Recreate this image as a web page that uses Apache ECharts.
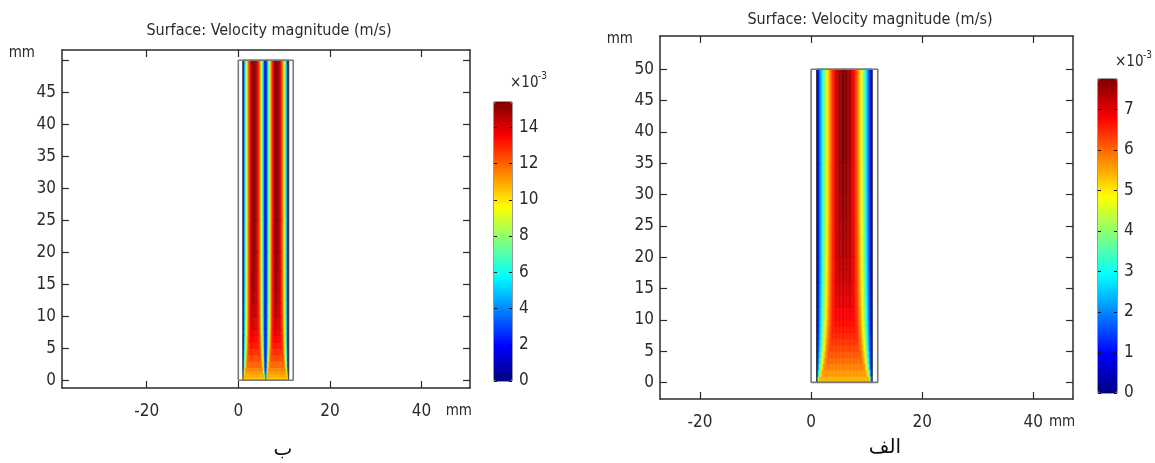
<!DOCTYPE html>
<html>
<head>
<meta charset="utf-8">
<script src="https://cdn.jsdelivr.net/npm/echarts@6/dist/echarts.min.js"></script>
<style>
html, body { margin: 0; padding: 0; background: #fff; }
#chart { width: 1155px; height: 463px; }
</style>
</head>
<body>
<div id="chart"></div>
<script>
// velocity magnitude in 1e-3 m/s.
// each row: half profile from the wall to the channel centre (0.25 mm cells),
// valid between two consecutive band edges (mm along the channel)

// plot "ب" (left): two channels side by side
var leftBands = [0, 0.5, 1, 1.5, 2, 3, 4, 5, 6, 7, 8, 10, 12, 14, 17, 20, 25, 50];
var leftChannels = [[1, 6], [6, 11]];
var leftProfiles = [
    [10.27, 10.47, 10.47, 10.47, 10.47, 10.47, 10.47, 10.47, 10.47, 10.47],
    [5.84, 10.81, 10.83, 10.83, 10.83, 10.83, 10.83, 10.83, 10.83, 10.83],
    [4.11, 9.52, 11.17, 11.17, 11.17, 11.17, 11.17, 11.17, 11.17, 11.17],
    [3.34, 8.31, 10.98, 11.48, 11.48, 11.48, 11.48, 11.48, 11.48, 11.48],
    [2.71, 7.09, 10.07, 11.64, 11.91, 11.91, 11.91, 11.91, 11.91, 11.91],
    [2.29, 6.17, 9.11, 11.12, 12.21, 12.41, 12.41, 12.41, 12.41, 12.41],
    [2.05, 5.61, 8.47, 10.6, 12.03, 12.74, 12.83, 12.83, 12.83, 12.83],
    [1.9, 5.26, 8.03, 10.21, 11.8, 12.79, 13.19, 13.2, 13.2, 13.2],
    [1.81, 5.04, 7.75, 9.94, 11.61, 12.76, 13.39, 13.51, 13.51, 13.51],
    [1.75, 4.88, 7.54, 9.73, 11.45, 12.7, 13.48, 13.78, 13.78, 13.78],
    [1.67, 4.69, 7.3, 9.49, 11.25, 12.59, 13.51, 14.02, 14.12, 14.12],
    [1.62, 4.57, 7.13, 9.31, 11.1, 12.52, 13.55, 14.19, 14.45, 14.46],
    [1.58, 4.48, 7.01, 9.18, 11.0, 12.45, 13.55, 14.28, 14.66, 14.71],
    [1.55, 4.39, 6.91, 9.08, 10.91, 12.39, 13.53, 14.33, 14.8, 14.93],
    [1.53, 4.35, 6.83, 9.01, 10.84, 12.35, 13.53, 14.38, 14.9, 15.1],
    [1.51, 4.31, 6.78, 8.94, 10.78, 12.3, 13.51, 14.4, 14.97, 15.22],
    [1.5, 4.27, 6.74, 8.89, 10.74, 12.28, 13.51, 14.44, 15.05, 15.36]
];

// plot "الف" (right): one wide channel
var rightBands = [0, 1, 2, 3, 4, 5, 6, 7, 8, 9, 10, 12, 14, 16, 18, 20, 23, 26, 30, 35, 50];
var rightChannels = [[1, 11]];
var rightProfiles = [
    [1.81, 4.32, 5.37, 5.41, 5.41, 5.41, 5.41, 5.41, 5.41, 5.41, 5.41, 5.41, 5.41, 5.41, 5.41, 5.41, 5.41, 5.41, 5.41, 5.41],
    [1.12, 2.98, 4.34, 5.22, 5.59, 5.61, 5.61, 5.61, 5.61, 5.61, 5.61, 5.61, 5.61, 5.61, 5.61, 5.61, 5.61, 5.61, 5.61, 5.61],
    [0.85, 2.35, 3.58, 4.54, 5.23, 5.65, 5.8, 5.8, 5.8, 5.8, 5.8, 5.8, 5.8, 5.8, 5.8, 5.8, 5.8, 5.8, 5.8, 5.8],
    [0.72, 2.01, 3.12, 4.05, 4.8, 5.36, 5.74, 5.94, 5.97, 5.97, 5.97, 5.97, 5.97, 5.97, 5.97, 5.97, 5.97, 5.97, 5.97, 5.97],
    [0.63, 1.8, 2.83, 3.72, 4.47, 5.08, 5.55, 5.88, 6.07, 6.12, 6.12, 6.12, 6.12, 6.12, 6.12, 6.12, 6.12, 6.12, 6.12, 6.12],
    [0.59, 1.66, 2.63, 3.48, 4.22, 4.85, 5.36, 5.75, 6.04, 6.2, 6.26, 6.26, 6.26, 6.26, 6.26, 6.26, 6.26, 6.26, 6.26, 6.26],
    [0.55, 1.56, 2.48, 3.3, 4.03, 4.66, 5.19, 5.62, 5.96, 6.2, 6.35, 6.39, 6.39, 6.39, 6.39, 6.39, 6.39, 6.39, 6.39, 6.39],
    [0.51, 1.48, 2.36, 3.15, 3.87, 4.5, 5.03, 5.49, 5.87, 6.15, 6.36, 6.48, 6.51, 6.51, 6.51, 6.51, 6.51, 6.51, 6.51, 6.51],
    [0.49, 1.42, 2.28, 3.05, 3.75, 4.38, 4.93, 5.4, 5.79, 6.11, 6.35, 6.51, 6.6, 6.62, 6.62, 6.62, 6.62, 6.62, 6.62, 6.62],
    [0.48, 1.37, 2.2, 2.96, 3.65, 4.27, 4.82, 5.3, 5.71, 6.05, 6.32, 6.52, 6.65, 6.71, 6.72, 6.72, 6.72, 6.72, 6.72, 6.72],
    [0.46, 1.33, 2.12, 2.86, 3.54, 4.16, 4.7, 5.19, 5.62, 5.98, 6.28, 6.51, 6.69, 6.8, 6.85, 6.85, 6.85, 6.85, 6.85, 6.85],
    [0.44, 1.27, 2.05, 2.77, 3.43, 4.04, 4.59, 5.08, 5.52, 5.9, 6.23, 6.5, 6.71, 6.86, 6.96, 7.0, 7.0, 7.0, 7.0, 7.0],
    [0.43, 1.24, 2.0, 2.7, 3.36, 3.96, 4.51, 5.01, 5.45, 5.84, 6.18, 6.47, 6.7, 6.89, 7.02, 7.1, 7.12, 7.12, 7.12, 7.12],
    [0.42, 1.21, 1.96, 2.65, 3.3, 3.9, 4.45, 4.95, 5.39, 5.8, 6.15, 6.45, 6.7, 6.91, 7.06, 7.17, 7.22, 7.23, 7.23, 7.23],
    [0.41, 1.19, 1.93, 2.62, 3.26, 3.85, 4.4, 4.9, 5.36, 5.76, 6.12, 6.43, 6.7, 6.91, 7.08, 7.21, 7.28, 7.31, 7.31, 7.31],
    [0.4, 1.18, 1.9, 2.58, 3.22, 3.81, 4.36, 4.86, 5.31, 5.72, 6.09, 6.42, 6.69, 6.92, 7.1, 7.25, 7.34, 7.39, 7.4, 7.4],
    [0.4, 1.16, 1.87, 2.55, 3.18, 3.78, 4.32, 4.82, 5.28, 5.7, 6.07, 6.4, 6.68, 6.93, 7.13, 7.28, 7.39, 7.46, 7.49, 7.49],
    [0.39, 1.15, 1.86, 2.53, 3.16, 3.74, 4.29, 4.79, 5.25, 5.67, 6.05, 6.38, 6.68, 6.93, 7.14, 7.3, 7.43, 7.51, 7.55, 7.56],
    [0.39, 1.14, 1.84, 2.51, 3.14, 3.72, 4.26, 4.77, 5.23, 5.65, 6.03, 6.37, 6.67, 6.93, 7.15, 7.32, 7.46, 7.55, 7.61, 7.62],
    [0.38, 1.12, 1.82, 2.48, 3.1, 3.68, 4.22, 4.72, 5.19, 5.61, 6.0, 6.35, 6.66, 6.93, 7.16, 7.36, 7.51, 7.63, 7.71, 7.75]
];

// geometry outlines (mm)
var outerBox = [[0, 0], [12, 0], [12, 50], [0, 50], [0, 0]];
var innerBox = [[1, 0], [11, 0], [11, 50], [1, 50], [1, 0]];
var leftDivider = [[6, 0], [6, 50]];

// axis ranges and ticks
var leftXRange = [-38.5, 50.6];
var leftYRange = [-1.2, 51.6];
var rightXRange = [-27.2, 47.15];
var rightYRange = [-2.65, 55.3];
var xTicks = [-20, 0, 20, 40];
var yTicks = [0, 5, 10, 15, 20, 25, 30, 35, 40, 45, 50];
var leftYLabels = [0, 5, 10, 15, 20, 25, 30, 35, 40, 45];
var leftBarMax = 15.4;
var leftBarTicks = [0, 2, 4, 6, 8, 10, 12, 14];
var rightBarMax = 7.75;
var rightBarTicks = [0, 1, 2, 3, 4, 5, 6, 7];

var jet = ['#00007f', '#0000ff', '#007fff', '#00ffff', '#7fff7f', '#ffff00', '#ff7f00', '#ff0000', '#7f0000'];
var font = '"DejaVu Sans Condensed", "DejaVu Sans", sans-serif';
var ink = '#2b2b2b';

function buildCells(bands, profiles, channels) {
    var cells = [];
    channels.forEach(function (ch) {
        profiles.forEach(function (half, b) {
            var full = half.concat(half.slice().reverse());
            var w = (ch[1] - ch[0]) / full.length;
            full.forEach(function (v, i) {
                cells.push([ch[0] + i * w, bands[b], ch[0] + (i + 1) * w, bands[b + 1], v]);
            });
        });
    });
    return cells;
}

function renderCell(params, api) {
    var a = api.coord([api.value(0), api.value(1)]);
    var b = api.coord([api.value(2), api.value(3)]);
    var c = api.visual('color');
    return {
        type: 'rect',
        shape: { x: a[0], y: b[1], width: b[0] - a[0], height: a[1] - b[1] },
        style: { fill: c, stroke: c, lineWidth: 0.6 }
    };
}

function frameAxis(gridIndex, range, pos, ticks, labels, name) {
    return {
        type: 'value', gridIndex: gridIndex, position: pos,
        min: range[0], max: range[1],
        axisLine: { show: true, onZero: false, lineStyle: { color: ink, width: 1.5 } },
        axisTick: { show: true, inside: true, length: 7, customValues: ticks, lineStyle: { color: ink, width: 1.2 } },
        axisLabel: labels ? { show: true, customValues: labels, color: ink, fontSize: 17, fontFamily: font, margin: (pos === 'bottom' ? 15 : 6) } : { show: false },
        splitLine: { show: false },
        name: name || '',
        nameLocation: 'end',
        nameGap: (pos === 'bottom' ? 2 : -3),
        nameTextStyle: pos === 'bottom'
            ? { color: ink, fontSize: 15, fontFamily: font, align: 'right', verticalAlign: 'top', padding: [16, 0, 0, 0] }
            : { color: ink, fontSize: 15, fontFamily: font, align: 'right', verticalAlign: 'middle', padding: [0, 27, 0, 0] }
    };
}

function barAxis(gridIndex, max, pos, ticks) {
    return {
        type: 'value', gridIndex: gridIndex, position: pos, z: 10,
        min: 0, max: max,
        axisLine: { show: false, onZero: false },
        axisTick: { show: true, inside: true, length: 3, customValues: ticks, lineStyle: { color: '#111', width: 1 } },
        axisLabel: pos === 'right' ? { show: true, customValues: ticks, color: ink, fontSize: 17, fontFamily: font, margin: 7 } : { show: false },
        splitLine: { show: false }
    };
}

function hiddenX(gridIndex) {
    return { type: 'value', gridIndex: gridIndex, min: 0, max: 1, show: false };
}

function outline(data, xi, color, width) {
    return {
        type: 'line', xAxisIndex: xi, yAxisIndex: xi, data: data,
        showSymbol: false, silent: true, z: 5,
        lineStyle: { color: color, width: width }
    };
}

function cellSeries(cells, xi) {
    return {
        type: 'custom', xAxisIndex: xi, yAxisIndex: xi, data: cells,
        dimensions: ['x0', 'y0', 'x1', 'y1', 'u'],
        encode: { x: [0, 2], y: [1, 3] },
        renderItem: renderCell, silent: true, z: 2
    };
}

var chart = echarts.init(document.getElementById('chart'));

var option = {
    backgroundColor: '#fff',
    animation: false,
    grid: [
        { left: 62, top: 50, width: 408, height: 338 },
        { left: 660, top: 36, width: 413, height: 363 },
        { left: 494, top: 102, width: 18, height: 279, show: true, borderColor: '#333', borderWidth: 1, backgroundColor: 'transparent' },
        { left: 1098, top: 79, width: 19, height: 314, show: true, borderColor: '#333', borderWidth: 1, backgroundColor: 'transparent' }
    ],
    xAxis: [
        frameAxis(0, leftXRange, 'bottom', xTicks, xTicks, 'mm'),
        frameAxis(0, leftXRange, 'top', xTicks, null),
        frameAxis(1, rightXRange, 'bottom', xTicks, xTicks, 'mm'),
        frameAxis(1, rightXRange, 'top', xTicks, null),
        hiddenX(2),
        hiddenX(3)
    ],
    yAxis: [
        frameAxis(0, leftYRange, 'left', yTicks, leftYLabels, 'mm'),
        frameAxis(0, leftYRange, 'right', yTicks, null),
        frameAxis(1, rightYRange, 'left', yTicks, yTicks, 'mm'),
        frameAxis(1, rightYRange, 'right', yTicks, null),
        barAxis(2, leftBarMax, 'right', leftBarTicks),
        barAxis(2, leftBarMax, 'left', leftBarTicks),
        barAxis(3, rightBarMax, 'right', rightBarTicks),
        barAxis(3, rightBarMax, 'left', rightBarTicks)
    ],
    visualMap: [
        {
            type: 'continuous', seriesIndex: 0, dimension: 4,
            min: 0, max: leftBarMax, inRange: { color: jet },
            calculable: false, hoverLink: false, padding: 0,
            left: 494, top: 102, itemWidth: 18, itemHeight: 279, text: null
        },
        {
            type: 'continuous', seriesIndex: 3, dimension: 4,
            min: 0, max: rightBarMax, inRange: { color: jet },
            calculable: false, hoverLink: false, padding: 0,
            left: 1098, top: 79, itemWidth: 19, itemHeight: 314, text: null
        }
    ],
    series: [
        cellSeries(buildCells(leftBands, leftProfiles, leftChannels), 0),
        outline(innerBox, 0, '#3a3a3a', 1),
        outline(outerBox, 0, '#7a7a7a', 1.6),
        cellSeries(buildCells(rightBands, rightProfiles, rightChannels), 2),
        outline(innerBox, 2, '#3a3a3a', 1),
        outline(outerBox, 2, '#7a7a7a', 1.6),
        outline(leftDivider, 0, '#3a3a3a', 0.7)
    ],
    graphic: [
        { type: 'text', x: 269, y: 31, style: { text: 'Surface: Velocity magnitude (m/s)', font: '16px ' + font, fill: ink, textAlign: 'center', textVerticalAlign: 'middle' } },
        { type: 'text', x: 870, y: 20, style: { text: 'Surface: Velocity magnitude (m/s)', font: '16px ' + font, fill: ink, textAlign: 'center', textVerticalAlign: 'middle' } },
        { type: 'text', x: 510, y: 83, style: { text: '×10', font: '15px ' + font, fill: ink, textAlign: 'left', textVerticalAlign: 'middle' } },
        { type: 'text', x: 538, y: 76, style: { text: '-3', font: '10px ' + font, fill: ink, textAlign: 'left', textVerticalAlign: 'middle' } },
        { type: 'text', x: 1115, y: 62, style: { text: '×10', font: '15px ' + font, fill: ink, textAlign: 'left', textVerticalAlign: 'middle' } },
        { type: 'text', x: 1143, y: 55, style: { text: '-3', font: '10px ' + font, fill: ink, textAlign: 'left', textVerticalAlign: 'middle' } },
        { type: 'text', x: 283, y: 450, style: { text: 'ب', font: '20px "DejaVu Sans", sans-serif', fill: '#111', textAlign: 'center', textVerticalAlign: 'middle' } },
        { type: 'text', x: 885, y: 448, style: { text: 'الف', font: '20px "DejaVu Sans", sans-serif', fill: '#111', textAlign: 'center', textVerticalAlign: 'middle' } }
    ]
};

chart.setOption(option);
</script>
</body>
</html>
